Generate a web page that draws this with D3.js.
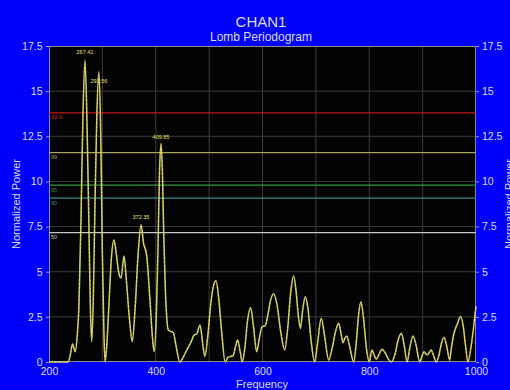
<!DOCTYPE html>
<html><head><meta charset="utf-8">
<script src="https://cdn.jsdelivr.net/npm/d3@7"></script>
<style>html,body{margin:0;padding:0;background:#0000fa;overflow:hidden}</style>
</head><body>
<svg id="chart" width="510" height="390"></svg>
<script>
const titleText = "CHAN1";
const subtitleText = "Lomb Periodogram";
const xLabel = "Frequency";
const yLabel = "Normalized Power";
const xTicks = [200, 400, 600, 800, 1000];
const yTicks = [0, 2.5, 5, 7.5, 10, 12.5, 15, 17.5];
const xGrid = [300, 400, 500, 600, 700, 800, 900];
const frequency = [200,236,240,244,249,253,256,260,263.5,267.4,271,274.5,277.5,280,283,286,289.5,293.5,297,300,303,305,308,312,317,321.8,326,331,335,340.5,345,351,356,361,367,372.4,377,383,389,394,397,401,404,407,409.85,412.5,415,418,420.5,423.5,428,433,438,445,452,458,466,472,476.6,483,488,492,497,503,508,513,518,524,530,535,539,545,549,553.4,558,562,567,572,577.8,583,589,594,599,605,610,615,621,627,635,641.5,647,653,658.4,663,667,671,675,680,685,691,697.7,703,710,716,724,730,737,742.7,747,750.8,754,758,763,771,776,780,784.5,789,795,800,805,809,813,818,824,830,836,841,848,854,860,865,871,876,882,888,894.5,899,902.6,906,909,912,916,920,925.6,930,935,940,945,950.7,954,958.8,965,971,976,980,985,990,995,1000];
const power = [0,0,0.4,1.0,0.57,1.5,3.0,8.0,13.5,16.72,13.5,8.0,3.0,1.12,3.5,8.5,13.5,16.07,12.5,6.0,1.5,0,0.8,3.0,5.8,6.75,6.0,4.9,4.65,5.87,4.5,2.3,1.12,2.8,6.0,7.6,6.6,5.9,3.5,1.3,0.57,2.5,6.0,10.5,12.1,10.5,7,4,2.5,1.77,1.7,1.62,0.9,0,0.3,0.66,1.1,1.5,1.55,2.05,1.0,0.3,1.3,3.2,4.2,4.5,3.5,1.5,0,0.25,0.3,0.35,0.8,1.22,0.6,0,0.8,2.3,3.0,2.0,0.57,1.3,1.95,2.0,2.6,3.4,3.76,3.2,1.5,0.66,1.8,3.9,4.76,3.9,2.6,1.86,2.8,3.62,3.0,1.2,0,1.0,2.42,1.5,0.1,0.7,1.7,2.14,1.6,1.07,1.3,1.44,0.9,0,1.2,2.6,3.34,2.5,0.7,0,0.66,0.4,0.15,0.4,0.7,0.5,0.15,0,0.4,1.2,1.59,1.0,0,0.8,1.44,0.9,0,0.35,0.57,0.45,0.4,0.5,0.66,0.4,0,0.3,1.0,1.37,0.9,0.1,0.8,1.59,2.1,2.5,2.0,1.0,0,0.7,1.8,3.1];
const peakFreq = [267.42, 293.56, 372.35, 409.85];
const peakPower = [16.72, 16.07, 7.6, 12.1];
const peakText = ["267.42", "293.56", "372.35", "409.85"];
const sigLevel = ["99.9", "99", "95", "90", "50"];
const sigPower = [13.8, 11.59, 9.8, 9.08, 7.16];
const sigColor = ["#c41a1a", "#a8a466", "#2f9a38", "#3a8c8c", "#c8c8c8"];

const svg = d3.select("#chart");
const W = 510, H = 390;
const m = {l: 49, r: 34, t: 46, b: 28};
const x = d3.scaleLinear().domain([200, 1000]).range([m.l, W - m.r]);
const y = d3.scaleLinear().domain([0, 17.5]).range([H - m.b, m.t]);
const font = "'Liberation Sans', Arial, sans-serif";
const txt = "#dcdcec";

svg.append("rect").attr("width", W).attr("height", H).attr("fill", "#0000fa");
svg.append("rect").attr("x", x(200)).attr("y", y(17.5))
  .attr("width", x(1000) - x(200)).attr("height", y(0) - y(17.5)).attr("fill", "#030303");

// grid
svg.append("g").selectAll("line").data(yTicks.filter(d => d > 0 && d < 17.5)).join("line")
  .attr("x1", x(200)).attr("x2", x(1000)).attr("y1", d => y(d)).attr("y2", d => y(d))
  .attr("stroke", "#3c3c3c").attr("stroke-width", 1);
svg.append("g").selectAll("line").data(xGrid).join("line")
  .attr("y1", y(0)).attr("y2", y(17.5)).attr("x1", d => x(d)).attr("x2", d => x(d))
  .attr("stroke", "#3c3c3c").attr("stroke-width", 1);

// border
svg.append("rect").attr("x", x(200) + 0.5).attr("y", y(17.5) + 0.5)
  .attr("width", x(1000) - x(200) - 1).attr("height", y(0) - y(17.5) - 1)
  .attr("fill", "none").attr("stroke", "#8a8a9a").attr("stroke-width", 1);

// significance lines
const sig = svg.append("g");
sigPower.forEach((p, i) => {
  sig.append("line").attr("x1", x(200)).attr("x2", x(1000)).attr("y1", y(p)).attr("y2", y(p))
    .attr("stroke", sigColor[i]).attr("stroke-width", 1.2);
  sig.append("text").attr("x", x(200) + 2).attr("y", y(p) + 6.5).text(sigLevel[i])
    .attr("fill", sigColor[i]).attr("font-family", font).attr("font-size", 5.5);
});

// curve
const pts = frequency.map((f, i) => [f, power[i]]);
const line = d3.line().x(d => x(d[0])).y(d => y(d[1])).curve(d3.curveMonotoneX);
svg.append("path").datum(pts).attr("d", line).attr("fill", "none")
  .attr("stroke", "#e4de6e").attr("stroke-width", 1.5).attr("stroke-linejoin", "round");
svg.append("path").datum(pts).attr("d", line).attr("fill", "none")
  .attr("stroke", "#6a6620").attr("stroke-width", 0.6).attr("stroke-dasharray", "1,3");

// peak labels
const peakDy = [-8, 9, -8, -6.5];
svg.append("g").selectAll("text").data(peakFreq).join("text")
  .attr("x", d => x(d)).attr("y", (d, i) => y(peakPower[i]) + peakDy[i] + 2)
  .attr("text-anchor", "middle").text((d, i) => peakText[i])
  .attr("fill", "#e8e27a").attr("font-family", font).attr("font-size", 5.5);

// axes
const yl = d3.axisLeft(y).tickValues(yTicks).tickSize(3).tickFormat(d3.format("~g"));
const yr = d3.axisRight(y).tickValues(yTicks).tickSize(3).tickFormat(d3.format("~g"));
const xb = d3.axisBottom(x).tickValues(xTicks).tickSize(0).tickFormat(d3.format("d"));
function style(g) {
  g.select(".domain").remove();
  g.selectAll("line").attr("stroke", "#9a9ab0");
  g.selectAll("text").attr("fill", txt).attr("font-family", font).attr("font-size", 10.5);
}
svg.append("g").attr("transform", `translate(${x(200)},0)`).call(yl).call(style)
  .selectAll("text").attr("dx", "-0.5");
svg.append("g").attr("transform", `translate(${x(1000)},0)`).call(yr).call(style);
svg.append("g").attr("transform", `translate(0,${y(0)})`).call(xb).call(style)
  .selectAll("text").attr("dy", "0.95em");

// titles
svg.append("text").attr("x", 261).attr("y", 26.5).attr("text-anchor", "middle").text(titleText)
  .attr("fill", txt).attr("font-family", font).attr("font-size", 15);
svg.append("text").attr("x", 261).attr("y", 41).attr("text-anchor", "middle").text(subtitleText)
  .attr("fill", txt).attr("font-family", font).attr("font-size", 12);
svg.append("text").attr("x", 262).attr("y", 388).attr("text-anchor", "middle").text(xLabel)
  .attr("fill", txt).attr("font-family", font).attr("font-size", 11);
const yc = (y(0) + y(17.5)) / 2;
svg.append("text").attr("transform", `translate(19.5,${yc}) rotate(-90)`).attr("text-anchor", "middle")
  .text(yLabel).attr("fill", txt).attr("font-family", font).attr("font-size", 11);
svg.append("text").attr("transform", `translate(513,${yc}) rotate(-90)`).attr("text-anchor", "middle")
  .text(yLabel).attr("fill", txt).attr("font-family", font).attr("font-size", 11);
</script>
</body></html>
